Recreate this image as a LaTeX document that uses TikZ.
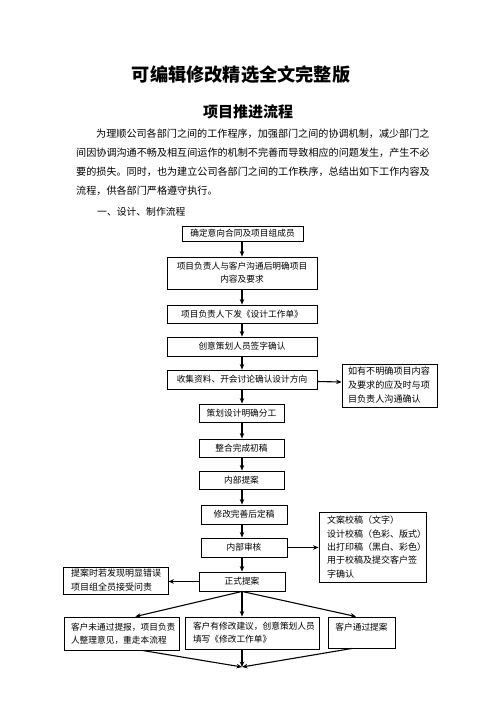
\documentclass[tikz,border=0pt]{standalone}
\usepackage{fontspec}
\newfontfamily\cjk{Noto Sans CJK SC}
\usetikzlibrary{arrows.meta,calc}
\tikzset{
  box/.style={draw, line width=0.9pt, inner sep=0pt, align=center,
    font=\cjk\fontsize{8.7}{13}\selectfont},
  sidebox/.style={draw, line width=0.9pt, inner ysep=0pt, inner xsep=0pt, align=left,
    font=\cjk\fontsize{9.1}{14}\selectfont},
  arr/.style={line width=1.1pt, -{Stealth[length=5.5pt,width=4.5pt]}},
  para/.style={anchor=west, inner sep=0pt, font=\cjk\fontsize{10.1}{12}\selectfont}
}
\begin{document}
\begin{tikzpicture}[x=1pt,y=-1pt]
\useasboundingbox (0,0) rectangle (496,702);
% titles
\node[font=\cjk\bfseries\fontsize{18.2}{20}\selectfont, inner sep=0pt] (title) at (241,75) {可编辑修改精选全文完整版};
\node[font=\cjk\bfseries\fontsize{15}{17}\selectfont, inner sep=0pt] (subtitle) at (248,112) {项目推进流程};
% paragraph
\node[para] (p1) at (96,134) {为理顺公司各部门之间的工作程序，加强部门之间的协调机制，减少部门之};
\node[para] (p2) at (76,153) {间因协调沟通不畅及相互间运作的机制不完善而导致相应的问题发生，产生不必};
\node[para] (p3) at (76,172) {要的损失。同时，也为建立公司各部门之间的工作秩序，总结出如下工作内容及};
\node[para] (p4) at (76,191) {流程，供各部门严格遵守执行。};
\node[para, font=\cjk\fontsize{9.8}{12}\selectfont] (sec) at (97,212) {一、设计、制作流程};
% main column
\node[box, minimum width=121, minimum height=15] (n1) at (242.5,233.5) {确定意向合同及项目组成员};
\node[box, minimum width=150, minimum height=32] (n2) at (242,273) {项目负责人与客户沟通后明确项目\\内容及要求};
\node[box, minimum width=150, minimum height=18] (n3) at (242,314) {项目负责人下发《设计工作单》};
\node[box, minimum width=150, minimum height=19] (n4) at (242,346.5) {创意策划人员签字确认};
\node[box, minimum width=150, minimum height=19] (n5) at (242,379.5) {收集资料、开会讨论确认设计方向};
\node[sidebox, minimum width=95, minimum height=43, text width=83] (s1) at (389.5,385.5) {如有不明确项目内容\\及要求的应及时与项\\目负责人沟通确认};
\node[box, minimum width=85, minimum height=18] (n6) at (241.5,413) {策划设计明确分工};
\node[box, minimum width=85, minimum height=18] (n7) at (241.5,448) {整合完成初稿};
\node[box, minimum width=85, minimum height=18] (n8) at (241.5,480) {内部提案};
\node[box, minimum width=86, minimum height=19] (n9) at (244,514.5) {修改完善后定稿};
\node[sidebox, font=\cjk\fontsize{9}{13.3}\selectfont, minimum width=107, minimum height=70, text width=91] (s2) at (372.5,547) {文案校稿（文字）\\设计校稿（色彩、版式）\\出打印稿（黑白、彩色）\\用于校稿及提交客户签\\字确认};
\node[box, minimum width=86, minimum height=19] (n10) at (244,547.5) {内部审核};
\node[box, minimum width=86, minimum height=19] (n11) at (242,581.5) {正式提案};
\node[sidebox, font=\cjk\fontsize{9}{14}\selectfont, minimum width=105, minimum height=27, text width=89] (s3) at (115.5,580.5) {提案时若发现明显错误\\项目组全员接受问责};
% bottom row
\node[box, align=left, minimum width=115, minimum height=33, text width=101] (b1) at (121.5,633.5) {客户未通过提报，项目负责\\人整理意见，重走本流程};
\node[box, align=left, minimum width=134, minimum height=32, text width=118] (b2) at (252,633) {客户有修改建议，创意策划人员\\填写《修改工作单》};
\node[box, minimum width=67, text height=13.5, text depth=17.5] (b3) at (361.5,632.5) {客户通过提案};
\coordinate (m) at (242,667);
% arrows
\foreach \a/\b in {n1/n2,n2/n3,n3/n4,n4/n5,n5/n6,n6/n7,n7/n8,n8/n9,n9/n10,n10/n11}
  \draw[arr] (\a.south -| 242,0) -- (\b.north -| 242,0);
\draw[arr] (n5.east) ++(0,2) -- ($(s1.west)+(0,-3.5)$);
\draw[arr] (n10.east) -- (n10.east -| s2.west);
\draw[arr] (n11.west) -- (n11.west -| s3.east);
\draw[arr] (n11.south) -- ($(b1.north west)!0.62!(b1.north east)$);
\draw[arr] (n11.south) -- (n11.south |- b2.north);
\draw[arr] (n11.south) -- ($(b3.north west)!0.42!(b3.north east)$);
\draw[arr] ($(b1.south west)!0.68!(b1.south east)$) -- (m);
\draw[arr] (m |- b2.south) -- (m);
\draw[arr] ($(b3.south west)!0.36!(b3.south east)$) -- (m);
\end{tikzpicture}
\end{document}
